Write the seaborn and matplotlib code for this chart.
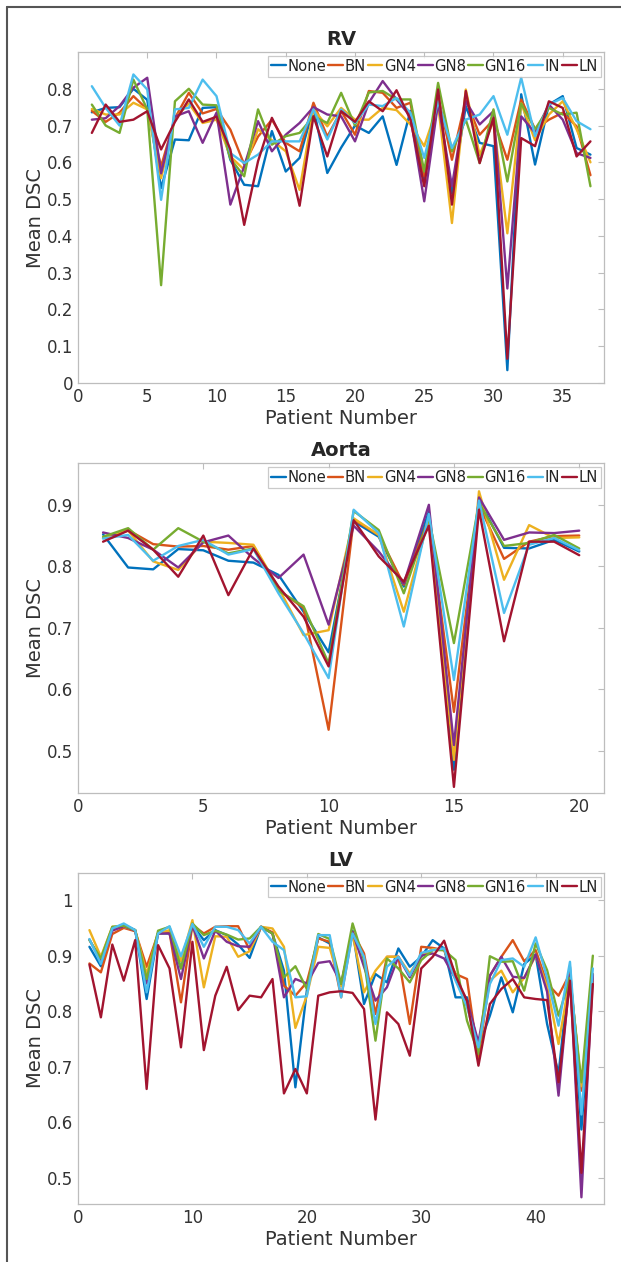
import numpy as np
import pandas as pd
import matplotlib
matplotlib.use("Agg")
import matplotlib.pyplot as plt
from matplotlib.lines import Line2D
import seaborn as sns

methods = ['None', 'BN', 'GN4', 'GN8', 'GN16', 'IN', 'LN']
colors = ['#0072BD', '#D95319', '#EDB120', '#7E2F8E', '#77AC30', '#4DBEEE', '#A2142F']

# RV, 37 patients
rv_none = [0.736, 0.748, 0.75, 0.80, 0.77, 0.53, 0.662, 0.66, 0.748, 0.75, 0.607, 0.539, 0.535, 0.685, 0.575, 0.612, 0.748, 0.571, 0.64,
           0.70, 0.68, 0.725, 0.593, 0.74, 0.553, 0.762, 0.516, 0.753, 0.653, 0.644, 0.035, 0.785, 0.594, 0.757, 0.78, 0.639, 0.621]
rv_bn = [0.74, 0.71, 0.735, 0.78, 0.744, 0.589, 0.72, 0.789, 0.733, 0.745, 0.689, 0.594, 0.67, 0.716, 0.653, 0.63, 0.762, 0.67, 0.74,
         0.675, 0.794, 0.789, 0.748, 0.762, 0.562, 0.78, 0.607, 0.77, 0.675, 0.716, 0.607, 0.771, 0.69, 0.716, 0.735, 0.698, 0.565]
rv_gn4 = [0.745, 0.73, 0.73, 0.762, 0.744, 0.557, 0.72, 0.76, 0.707, 0.716, 0.616, 0.58, 0.69, 0.66, 0.63, 0.525, 0.744, 0.698, 0.748,
          0.716, 0.716, 0.748, 0.742, 0.703, 0.644, 0.757, 0.435, 0.798, 0.62, 0.712, 0.407, 0.76, 0.66, 0.73, 0.766, 0.69, 0.60]
rv_gn8 = [0.716, 0.72, 0.753, 0.803, 0.83, 0.57, 0.725, 0.739, 0.653, 0.735, 0.485, 0.589, 0.712, 0.63, 0.675, 0.707, 0.75, 0.73, 0.725,
          0.657, 0.762, 0.821, 0.771, 0.725, 0.494, 0.762, 0.535, 0.766, 0.703, 0.739, 0.257, 0.725, 0.68, 0.757, 0.716, 0.625, 0.612]
rv_gn16 = [0.757, 0.70, 0.68, 0.825, 0.744, 0.266, 0.766, 0.80, 0.757, 0.755, 0.61, 0.562, 0.744, 0.648, 0.671, 0.68, 0.725, 0.707, 0.789,
           0.70, 0.79, 0.794, 0.771, 0.771, 0.575, 0.816, 0.63, 0.716, 0.598, 0.744, 0.548, 0.76, 0.69, 0.748, 0.73, 0.735, 0.535]
rv_in = [0.807, 0.748, 0.70, 0.839, 0.798, 0.498, 0.744, 0.748, 0.825, 0.78, 0.625, 0.598, 0.621, 0.657, 0.657, 0.657, 0.744, 0.662, 0.744,
         0.707, 0.757, 0.753, 0.775, 0.735, 0.612, 0.766, 0.639, 0.716, 0.73, 0.78, 0.675, 0.83, 0.671, 0.757, 0.775, 0.712, 0.69]
rv_ln = [0.68, 0.757, 0.71, 0.716, 0.739, 0.635, 0.71, 0.771, 0.71, 0.724, 0.635, 0.43, 0.603, 0.721, 0.644, 0.482, 0.725, 0.616, 0.739,
         0.71, 0.766, 0.739, 0.796, 0.716, 0.535, 0.798, 0.485, 0.794, 0.598, 0.721, 0.066, 0.666, 0.644, 0.766, 0.748, 0.616, 0.657]

# Aorta, 20 patients
ao_none = [0.852, 0.798, 0.795, 0.828, 0.826, 0.809, 0.806, 0.786, 0.726, 0.66, 0.873, 0.848, 0.767, 0.889, 0.469, 0.908, 0.83, 0.829, 0.843, 0.824]
ao_bn = [0.846, 0.859, 0.836, 0.832, 0.833, 0.827, 0.833, 0.762, 0.732, 0.534, 0.876, 0.851, 0.77, 0.878, 0.563, 0.90, 0.812, 0.84, 0.849, 0.85]
ao_gn4 = [0.846, 0.858, 0.808, 0.794, 0.84, 0.838, 0.835, 0.765, 0.688, 0.696, 0.878, 0.851, 0.726, 0.878, 0.485, 0.922, 0.778, 0.867, 0.846, 0.847]
ao_gn8 = [0.855, 0.846, 0.827, 0.798, 0.839, 0.85, 0.813, 0.781, 0.819, 0.705, 0.866, 0.824, 0.772, 0.90, 0.509, 0.912, 0.843, 0.855, 0.854, 0.858]
ao_gn16 = [0.848, 0.862, 0.827, 0.862, 0.84, 0.821, 0.829, 0.76, 0.735, 0.642, 0.89, 0.859, 0.756, 0.878, 0.675, 0.903, 0.833, 0.838, 0.851, 0.829]
ao_in = [0.845, 0.851, 0.809, 0.833, 0.843, 0.819, 0.828, 0.756, 0.691, 0.618, 0.892, 0.854, 0.702, 0.885, 0.615, 0.907, 0.724, 0.835, 0.846, 0.826]
ao_ln = [0.84, 0.858, 0.827, 0.783, 0.85, 0.753, 0.829, 0.767, 0.718, 0.637, 0.875, 0.816, 0.775, 0.866, 0.441, 0.892, 0.678, 0.84, 0.84, 0.818]

# LV, 45 patients
lv_none = [0.916, 0.881, 0.949, 0.956, 0.946, 0.822, 0.94, 0.94, 0.877, 0.955, 0.928, 0.946, 0.937, 0.92, 0.896, 0.952, 0.94, 0.873, 0.663,
           0.837, 0.933, 0.922, 0.846, 0.945, 0.813, 0.867, 0.852, 0.913, 0.88, 0.898, 0.928, 0.913, 0.825, 0.825, 0.735, 0.792, 0.861,
           0.798, 0.885, 0.902, 0.777, 0.687, 0.88, 0.587, 0.867]
lv_bn = [0.886, 0.87, 0.939, 0.95, 0.944, 0.88, 0.94, 0.942, 0.816, 0.955, 0.94, 0.952, 0.953, 0.953, 0.91, 0.952, 0.942, 0.846, 0.828,
         0.852, 0.931, 0.925, 0.825, 0.943, 0.904, 0.795, 0.898, 0.898, 0.777, 0.916, 0.914, 0.91, 0.867, 0.858, 0.714, 0.864, 0.898,
         0.928, 0.89, 0.91, 0.85, 0.828, 0.868, 0.657, 0.867]
lv_gn4 = [0.946, 0.898, 0.952, 0.952, 0.946, 0.867, 0.94, 0.946, 0.89, 0.964, 0.843, 0.935, 0.934, 0.898, 0.908, 0.952, 0.949, 0.916, 0.77,
          0.828, 0.916, 0.914, 0.845, 0.94, 0.834, 0.873, 0.898, 0.898, 0.868, 0.9, 0.912, 0.91, 0.867, 0.81, 0.73, 0.855, 0.873,
          0.834, 0.86, 0.9, 0.845, 0.741, 0.86, 0.665, 0.855]
lv_gn8 = [0.929, 0.89, 0.945, 0.953, 0.945, 0.85, 0.94, 0.94, 0.858, 0.955, 0.895, 0.945, 0.925, 0.917, 0.916, 0.952, 0.94, 0.825, 0.858,
          0.85, 0.887, 0.89, 0.85, 0.943, 0.88, 0.819, 0.843, 0.898, 0.861, 0.9, 0.904, 0.895, 0.858, 0.819, 0.744, 0.864, 0.898,
          0.862, 0.86, 0.902, 0.835, 0.648, 0.865, 0.465, 0.865]
lv_gn16 = [0.928, 0.895, 0.952, 0.954, 0.946, 0.858, 0.945, 0.952, 0.877, 0.958, 0.937, 0.945, 0.938, 0.929, 0.931, 0.952, 0.94, 0.861, 0.881,
           0.84, 0.939, 0.93, 0.849, 0.958, 0.892, 0.747, 0.895, 0.877, 0.852, 0.892, 0.91, 0.91, 0.892, 0.783, 0.723, 0.899, 0.889,
           0.89, 0.837, 0.922, 0.874, 0.792, 0.86, 0.672, 0.9]
lv_in = [0.93, 0.885, 0.949, 0.958, 0.946, 0.834, 0.94, 0.953, 0.899, 0.957, 0.916, 0.952, 0.952, 0.946, 0.922, 0.952, 0.925, 0.91, 0.825,
         0.827, 0.937, 0.937, 0.825, 0.94, 0.898, 0.777, 0.88, 0.898, 0.864, 0.905, 0.91, 0.913, 0.855, 0.808, 0.735, 0.849, 0.892,
         0.895, 0.88, 0.933, 0.86, 0.774, 0.889, 0.614, 0.877]
lv_ln = [0.884, 0.789, 0.92, 0.855, 0.928, 0.66, 0.919, 0.877, 0.735, 0.925, 0.73, 0.828, 0.88, 0.802, 0.828, 0.825, 0.858, 0.652, 0.696,
         0.652, 0.828, 0.834, 0.836, 0.833, 0.804, 0.605, 0.798, 0.777, 0.72, 0.877, 0.898, 0.927, 0.864, 0.819, 0.702, 0.813, 0.84,
         0.858, 0.825, 0.822, 0.82, 0.672, 0.855, 0.509, 0.849]

rv_ticks = [0, 5, 10, 15, 20, 25, 30, 35]
ao_ticks = [0, 5, 10, 15, 20]
lv_ticks = [0, 10, 20, 30, 40]


def long_df(series):
    rows = []
    for name, vals in zip(methods, series):
        for i, v in enumerate(vals):
            rows.append({'patient': i + 1, 'method': name, 'dsc': v})
    return pd.DataFrame(rows)


sns.set_style("white")
plt.rcParams['font.family'] = ['DejaVu Sans']

fig = plt.figure(figsize=(6.21, 12.62), dpi=100)

panels = [
    ('RV', [rv_none, rv_bn, rv_gn4, rv_gn8, rv_gn16, rv_in, rv_ln], [0.1256, 0.6965, 0.8475, 0.2623],
     (0, 38), (0, 0.9), rv_ticks, np.arange(0, 0.81, 0.1)),
    ('Aorta', [ao_none, ao_bn, ao_gn4, ao_gn8, ao_gn16, ao_in, ao_ln], [0.1256, 0.3716, 0.8475, 0.2615],
     (0, 21), (0.431, 0.968), ao_ticks, np.arange(0.5, 0.91, 0.1)),
    ('LV', [lv_none, lv_bn, lv_gn4, lv_gn8, lv_gn16, lv_in, lv_ln], [0.1256, 0.046, 0.8475, 0.2623],
     (0, 46), (0.453, 1.049), lv_ticks, np.arange(0.5, 1.01, 0.1)),
]

edge = '#bdbdbd'
txt = '#333333'

for title, series, pos, xl, yl, xt, yt in panels:
    ax = fig.add_axes(pos)
    df = long_df(series)
    sns.lineplot(data=df, x='patient', y='dsc', hue='method', hue_order=methods,
                 palette=colors, linewidth=1.7, ax=ax)
    ax.set_xlim(*xl)
    ax.set_ylim(*yl)
    ax.set_xticks(xt)
    ax.set_yticks(yt)
    ax.set_yticklabels(['%g' % round(v, 1) for v in yt])
    ax.tick_params(direction='in', length=4, width=0.8, color=edge, labelcolor=txt,
                   labelsize=12, top=True, right=True)
    for s in ax.spines.values():
        s.set_color(edge)
        s.set_linewidth(0.9)
    ax.set_xlabel('Patient Number', fontsize=14, color=txt, labelpad=2)
    ax.set_ylabel('Mean DSC', fontsize=14, color=txt, labelpad=1)
    ax.set_title(title, fontsize=14, fontweight='bold', pad=5)
    handles, labels = ax.get_legend_handles_labels()
    leg = ax.legend(handles, labels, loc='upper right', ncol=7, fontsize=10.6,
                    handlelength=1.0, handletextpad=0.1, columnspacing=0.15,
                    borderpad=0.2, borderaxespad=0.25, frameon=True, fancybox=False)
    leg.get_frame().set_edgecolor(edge)
    leg.get_frame().set_linewidth(0.9)
    for t in leg.get_texts():
        t.set_color('#222222')

# outer frame (left and top edges)
fig.add_artist(Line2D([0.0113, 0.0113], [0.0, 0.9945], color='#555555', linewidth=1.5))
fig.add_artist(Line2D([0.0113, 1.0], [0.9945, 0.9945], color='#555555', linewidth=1.5))

fig.savefig('out.png', dpi=100)
